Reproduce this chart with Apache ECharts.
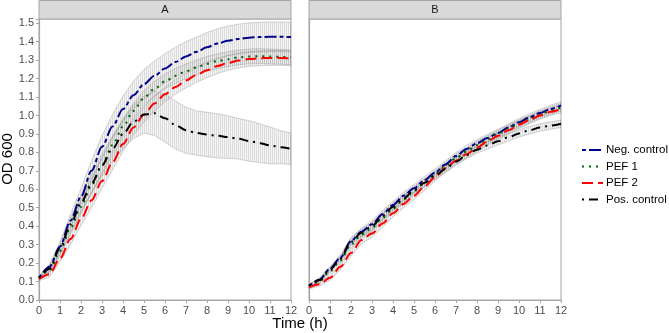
<!DOCTYPE html>
<html>
<head>
<meta charset="utf-8">
<script src="https://cdn.jsdelivr.net/npm/echarts@6/dist/echarts.min.js"></script>
<style>
  html, body { margin: 0; padding: 0; background: #fff; }
  #chart { width: 669px; height: 333px; }
</style>
</head>
<body>
<div id="chart"></div>
<script>
// time points (h)
const times = [0, 0.5, 1, 1.5, 2, 2.5, 3, 3.5, 4, 4.5, 5, 5.5, 6, 6.5, 7, 7.5, 8, 8.5, 9, 9.5, 10, 10.5, 11, 11.5, 12]
const seriesNames = ["Neg. control", "PEF 1", "PEF 2", "Pos. control"]
const panelNames = ["A", "B"]

// panel A means
const negA = [0.12, 0.18, 0.29, 0.43, 0.56, 0.7, 0.83, 0.94, 1.035, 1.11, 1.17, 1.215, 1.255, 1.29, 1.32, 1.345, 1.37, 1.39, 1.405, 1.415, 1.422, 1.425, 1.427, 1.427, 1.425]
const pef1A = [0.12, 0.16, 0.265, 0.39, 0.505, 0.62, 0.73, 0.84, 0.94, 1.025, 1.095, 1.145, 1.185, 1.215, 1.24, 1.26, 1.28, 1.295, 1.305, 1.315, 1.32, 1.322, 1.32, 1.318, 1.315]
const pef2A = [0.115, 0.14, 0.225, 0.33, 0.44, 0.54, 0.645, 0.745, 0.845, 0.935, 1.005, 1.065, 1.115, 1.155, 1.19, 1.22, 1.245, 1.268, 1.285, 1.298, 1.306, 1.31, 1.312, 1.312, 1.31]
const posA = [0.12, 0.17, 0.28, 0.41, 0.525, 0.63, 0.73, 0.82, 0.9, 0.965, 1.005, 1.012, 0.985, 0.948, 0.92, 0.905, 0.897, 0.89, 0.883, 0.874, 0.862, 0.85, 0.838, 0.828, 0.82]
// panel A standard deviations
const negSdA = [0.01, 0.015, 0.025, 0.035, 0.045, 0.055, 0.06, 0.065, 0.07, 0.075, 0.08, 0.08, 0.08, 0.08, 0.08, 0.08, 0.08, 0.08, 0.08, 0.08, 0.08, 0.08, 0.08, 0.08, 0.08]
const pef1SdA = [0.01, 0.015, 0.02, 0.03, 0.035, 0.04, 0.04, 0.04, 0.04, 0.04, 0.04, 0.04, 0.04, 0.04, 0.04, 0.04, 0.04, 0.04, 0.04, 0.04, 0.04, 0.04, 0.04, 0.04, 0.04]
const pef2SdA = [0.01, 0.015, 0.02, 0.03, 0.035, 0.04, 0.04, 0.04, 0.04, 0.04, 0.04, 0.04, 0.04, 0.04, 0.04, 0.04, 0.04, 0.04, 0.04, 0.04, 0.04, 0.04, 0.04, 0.04, 0.04]
const posSdA = [0.01, 0.015, 0.025, 0.035, 0.04, 0.05, 0.06, 0.07, 0.08, 0.09, 0.1, 0.12, 0.13, 0.13, 0.125, 0.12, 0.12, 0.12, 0.115, 0.11, 0.11, 0.105, 0.1, 0.09, 0.085]

// panel B means
const negB = [0.076, 0.11, 0.17, 0.23, 0.32, 0.37, 0.41, 0.465, 0.515, 0.565, 0.605, 0.65, 0.69, 0.735, 0.78, 0.818, 0.85, 0.878, 0.905, 0.935, 0.963, 0.99, 1.013, 1.035, 1.055]
const pef1B = [0.072, 0.1, 0.155, 0.215, 0.3, 0.355, 0.39, 0.445, 0.495, 0.545, 0.59, 0.635, 0.68, 0.725, 0.77, 0.805, 0.84, 0.87, 0.9, 0.93, 0.955, 0.98, 1.005, 1.025, 1.045]
const pef2B = [0.068, 0.085, 0.12, 0.18, 0.255, 0.325, 0.36, 0.415, 0.47, 0.52, 0.565, 0.615, 0.665, 0.715, 0.755, 0.79, 0.825, 0.86, 0.89, 0.92, 0.95, 0.975, 1.0, 1.02, 1.035]
const posB = [0.078, 0.108, 0.165, 0.225, 0.315, 0.365, 0.4, 0.455, 0.505, 0.55, 0.595, 0.635, 0.675, 0.71, 0.75, 0.785, 0.815, 0.838, 0.86, 0.882, 0.903, 0.92, 0.935, 0.945, 0.955]
// panel B standard deviations
const negSdB = [0.008, 0.01, 0.012, 0.015, 0.018, 0.02, 0.02, 0.02, 0.02, 0.02, 0.02, 0.02, 0.02, 0.02, 0.02, 0.02, 0.02, 0.02, 0.02, 0.02, 0.02, 0.02, 0.02, 0.02, 0.02]
const pef1SdB = [0.008, 0.01, 0.012, 0.015, 0.018, 0.02, 0.02, 0.02, 0.02, 0.02, 0.02, 0.02, 0.02, 0.02, 0.02, 0.02, 0.02, 0.02, 0.02, 0.02, 0.02, 0.02, 0.02, 0.02, 0.02]
const pef2SdB = [0.008, 0.01, 0.012, 0.015, 0.018, 0.02, 0.02, 0.02, 0.02, 0.02, 0.02, 0.02, 0.02, 0.02, 0.02, 0.02, 0.02, 0.02, 0.02, 0.02, 0.02, 0.02, 0.02, 0.02, 0.02]
const posSdB = [0.008, 0.01, 0.012, 0.015, 0.018, 0.02, 0.02, 0.02, 0.02, 0.02, 0.02, 0.02, 0.02, 0.02, 0.02, 0.02, 0.02, 0.02, 0.02, 0.02, 0.02, 0.02, 0.02, 0.02, 0.02]

const colors = ["#00008B", "#006400", "#FF0000", "#000000"]
const dashes = [[4, 3, 12, 3], [2, 5], [11, 5], [2, 5, 9, 5]]
const FONT = "Liberation Sans, Arial, sans-serif"

const meansA = [negA, pef1A, pef2A, posA]
const sdsA = [negSdA, pef1SdA, pef2SdA, posSdA]
const meansB = [negB, pef1B, pef2B, posB]
const sdsB = [negSdB, pef1SdB, pef2SdB, posSdB]

// hatch pattern that imitates the dense error bars
const pc = document.createElement("canvas")
pc.width = 2
pc.height = 2
const pctx = pc.getContext("2d")
pctx.fillStyle = "rgba(150,150,150,0.33)"
pctx.fillRect(0, 0, 1, 2)
pctx.fillStyle = "rgba(170,170,170,0.12)"
pctx.fillRect(1, 0, 1, 2)
const hatch = { image: pc, repeat: "repeat" }

function bandSeries(means, sds, gi) {
  return {
    type: "custom",
    xAxisIndex: gi,
    yAxisIndex: gi,
    silent: true,
    clip: true,
    z: 1,
    data: [0],
    renderItem: (params, api) => {
      const up = []
      const lo = []
      for (let i = 0; i < times.length; i++) {
        up.push(api.coord([times[i], means[i] + sds[i]]))
        lo.push(api.coord([times[i], means[i] - sds[i]]))
      }
      return {
        type: "polygon",
        shape: { points: up.concat(lo.reverse()) },
        style: { fill: hatch, stroke: "rgba(140,140,140,0.45)", lineWidth: 0.8 },
      }
    },
  }
}

function lineSeries(means, k, gi) {
  return {
    name: seriesNames[k],
    type: "line",
    xAxisIndex: gi,
    yAxisIndex: gi,
    data: times.map((t, i) => [t, means[i]]),
    symbol: "none",
    showSymbol: false,
    smooth: 0.3,
    smoothMonotone: "x",
    z: 3,
    lineStyle: { color: colors[k], width: 2, type: dashes[k] },
    itemStyle: { color: colors[k] },
  }
}

const series = []
for (let k = 0; k < 4; k++) {
  series.push(bandSeries(meansA[k], sdsA[k], 0))
  series.push(bandSeries(meansB[k], sdsB[k], 1))
}
for (let k = 0; k < 4; k++) {
  series.push(lineSeries(meansA[k], k, 0))
  series.push(lineSeries(meansB[k], k, 1))
}

const axisGray = "#4d4d4d"
const borderGray = "#a6a6a6"

function xAxisFor(gi) {
  return {
    type: "value",
    gridIndex: gi,
    min: 0,
    max: 12,
    interval: 1,
    axisLine: { show: true, lineStyle: { color: borderGray, width: 1.2 } },
    axisTick: { show: true, length: 3, lineStyle: { color: borderGray } },
    axisLabel: { color: axisGray, fontSize: 11, fontFamily: FONT, margin: 5 },
    splitLine: { show: false },
  }
}

function yAxisFor(gi) {
  return {
    type: "value",
    gridIndex: gi,
    min: 0,
    max: 1.523,
    interval: 0.1,
    axisLine: { show: true, lineStyle: { color: borderGray, width: 1.2 } },
    axisTick: { show: gi === 0, length: 3, lineStyle: { color: borderGray } },
    axisLabel: {
      show: gi === 0,
      color: axisGray,
      fontSize: 11,
      fontFamily: FONT,
      margin: 5,
      formatter: (v) => (Math.abs(v * 10 - Math.round(v * 10)) < 1e-6 ? v.toFixed(1) : ""),
    },
    splitLine: { show: false },
  }
}

const chart = echarts.init(document.getElementById("chart"), null, { renderer: "canvas" })
chart.setOption({
  animation: false,
  backgroundColor: "#fff",
  textStyle: { fontFamily: FONT },
  grid: [
    { left: 39, top: 19, width: 252, height: 281, show: true, borderColor: borderGray, borderWidth: 1 },
    { left: 309, top: 19, width: 252, height: 281, show: true, borderColor: borderGray, borderWidth: 1 },
  ],
  xAxis: [xAxisFor(0), xAxisFor(1)],
  yAxis: [yAxisFor(0), yAxisFor(1)],
  legend: {
    data: seriesNames,
    orient: "vertical",
    left: 576,
    top: 139,
    itemWidth: 21,
    itemHeight: 10,
    itemGap: 4.5,
    itemStyle: { opacity: 0 },
    textStyle: { fontSize: 11.5, color: "#000", fontFamily: FONT, padding: [0, 0, 0, -2] },
  },
  graphic: [
    { type: "rect", shape: { x: 39, y: 0.5, width: 252, height: 18.5 }, style: { fill: "#d9d9d9", stroke: borderGray, lineWidth: 1 }, z: 10 },
    { type: "rect", shape: { x: 309, y: 0.5, width: 252, height: 18.5 }, style: { fill: "#d9d9d9", stroke: borderGray, lineWidth: 1 }, z: 10 },
    { type: "text", x: 165, y: 10, style: { text: panelNames[0], fill: "#1a1a1a", font: "11px " + FONT, textAlign: "center", textVerticalAlign: "middle" }, z: 11 },
    { type: "text", x: 435, y: 10, style: { text: panelNames[1], fill: "#1a1a1a", font: "11px " + FONT, textAlign: "center", textVerticalAlign: "middle" }, z: 11 },
    { type: "text", x: 300, y: 324, style: { text: "Time (h)", fill: "#000", font: "15px " + FONT, textAlign: "center", textVerticalAlign: "middle" }, z: 11 },
    { type: "text", x: 8, y: 159, rotation: Math.PI / 2, style: { text: "OD 600", fill: "#000", font: "15px " + FONT, textAlign: "center", textVerticalAlign: "middle" }, z: 11 },
  ],
  series: series,
})
</script>
</body>
</html>
